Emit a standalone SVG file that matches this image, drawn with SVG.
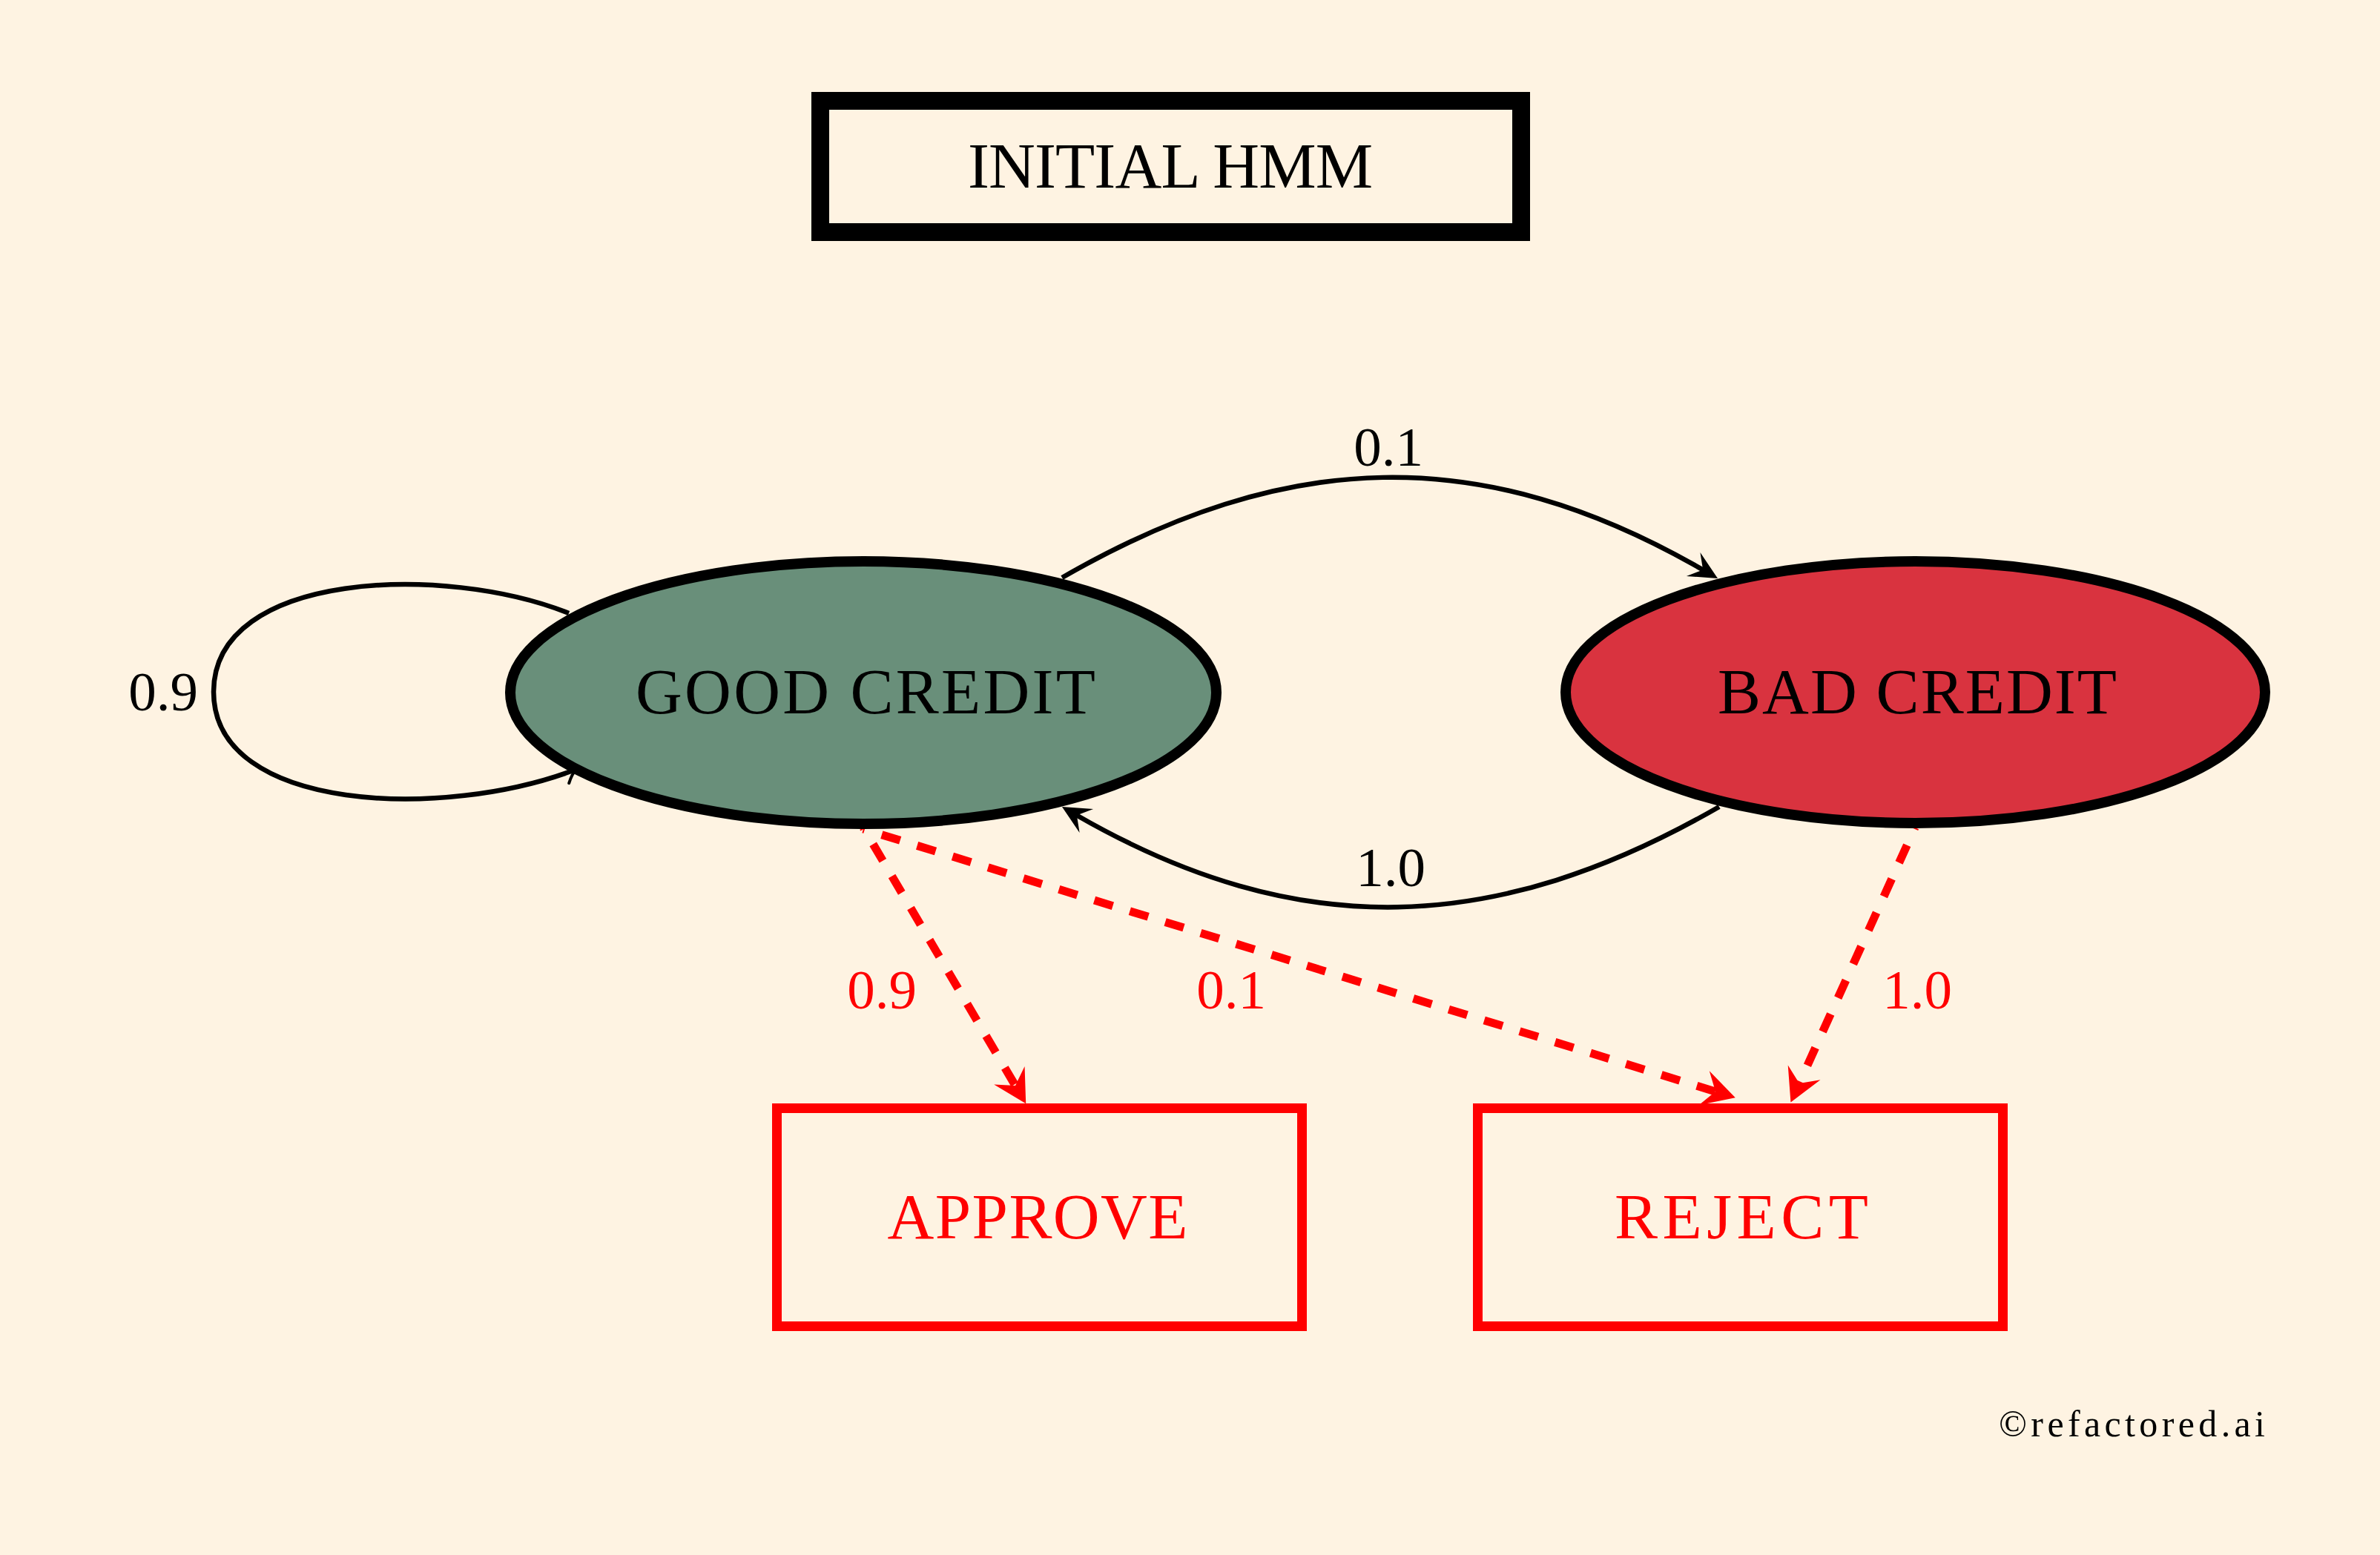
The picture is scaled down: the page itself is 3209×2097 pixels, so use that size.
<svg xmlns="http://www.w3.org/2000/svg" width="3209" height="2097" viewBox="0 0 3209 2097">
  <style>
    text { font-family: "Liberation Serif", "DejaVu Serif", serif; }
    .node { font-size: 87px; text-anchor: middle; fill: #000; }
    .out { font-size: 87px; text-anchor: middle; fill: #ff0000; }
    .lbl { font-size: 75px; text-anchor: middle; fill: #000; }
    .rlbl { font-size: 75px; text-anchor: middle; fill: #ff0000; }
    .edge { fill: none; stroke: #000; stroke-width: 6.5; }
    .emit { fill: none; stroke: #ff0000; stroke-width: 11; stroke-dasharray: 26 24; stroke-dashoffset: 24; }
  </style>
  <defs>
    <marker id="stealth" markerUnits="userSpaceOnUse" viewBox="-40 -20 42 40" refX="-22" refY="0" markerWidth="42" markerHeight="40" orient="auto" overflow="visible">
      <path d="M0,0 L-38,-18.5 L-23,0 L-38,18.5 Z" fill="#000"/>
    </marker>
    <marker id="stealthRed" markerUnits="userSpaceOnUse" viewBox="-47 -26 49 52" refX="-28" refY="0" markerWidth="49" markerHeight="52" orient="auto" overflow="visible">
      <path d="M0,0 L-44,-24 L-28,0 L-44,24 Z" fill="#ff0000"/>
    </marker>
    <marker id="to" markerUnits="userSpaceOnUse" viewBox="-20 -16 24 32" refX="0" refY="0" markerWidth="24" markerHeight="32" orient="auto" overflow="visible">
      <path d="M-17,-14 C-10,-5 -3,-1 0,0 C-3,1 -10,5 -17,14" fill="none" stroke="#000" stroke-width="4" stroke-linecap="round"/>
    </marker>
  </defs>

  <rect x="0" y="0" width="3209" height="2097" fill="#fef3e2"/>

  <g id="connectors">
    <!-- self loop GOOD -> GOOD -->
    <path class="edge" d="M767,827 C600,760 288,770 288,933 C288,1096 600,1106 778,1037" marker-end="url(#to)"/>
    <text class="lbl" x="220" y="958">0.9</text>
    <!-- GOOD -> BAD -->
    <path class="edge" d="M1432,779 C1732,606 1997,595 2297,769" marker-end="url(#stealth)"/>
    <text class="lbl" x="1872" y="628">0.1</text>
    <!-- BAD -> GOOD -->
    <path class="edge" d="M2318,1088 C2018,1261 1751,1272 1451,1099" marker-end="url(#stealth)"/>
    <text class="lbl" x="1875" y="1195">1.0</text>
    <!-- GOOD -> APPROVE -->
    <path class="emit" d="M1164,1116 L1369,1464" marker-end="url(#stealthRed)"/>
    <text class="rlbl" x="1189" y="1360">0.9</text>
    <!-- GOOD -> REJECT -->
    <path class="emit" d="M1164,1118 L2313,1472" marker-end="url(#stealthRed)"/>
    <text class="rlbl" x="1660" y="1360">0.1</text>
    <!-- BAD -> REJECT -->
    <path class="emit" d="M2582,1116 L2426,1461" marker-end="url(#stealthRed)"/>
    <text class="rlbl" x="2585" y="1360">1.0</text>
  </g>

  <g id="title">
    <rect x="1106" y="136" width="945" height="177" fill="none" stroke="#000" stroke-width="24"/>
    <text class="node" x="1578" y="253" textLength="546">INITIAL HMM</text>
  </g>

  <g id="good-credit">
    <ellipse cx="1164" cy="934" rx="476" ry="177" fill="#698f7a" stroke="#000" stroke-width="14"/>
    <text class="node" x="1167" y="962" textLength="620">GOOD CREDIT</text>
  </g>

  <g id="bad-credit">
    <ellipse cx="2582.5" cy="933.5" rx="471.5" ry="176.5" fill="#d9333f" stroke="#000" stroke-width="14"/>
    <text class="node" x="2585" y="962" textLength="538">BAD CREDIT</text>
  </g>

  <g id="approve">
    <rect x="1047.5" y="1494.5" width="708" height="294" fill="none" stroke="#ff0000" stroke-width="13"/>
    <text class="out" x="1399" y="1670" textLength="405">APPROVE</text>
  </g>

  <g id="reject">
    <rect x="1992.5" y="1494.5" width="708" height="294" fill="none" stroke="#ff0000" stroke-width="13"/>
    <text class="out" x="2348" y="1670" textLength="342">REJECT</text>
  </g>

  <text x="2695" y="1937" font-size="50" fill="#000" textLength="359">©refactored.ai</text>
</svg>
